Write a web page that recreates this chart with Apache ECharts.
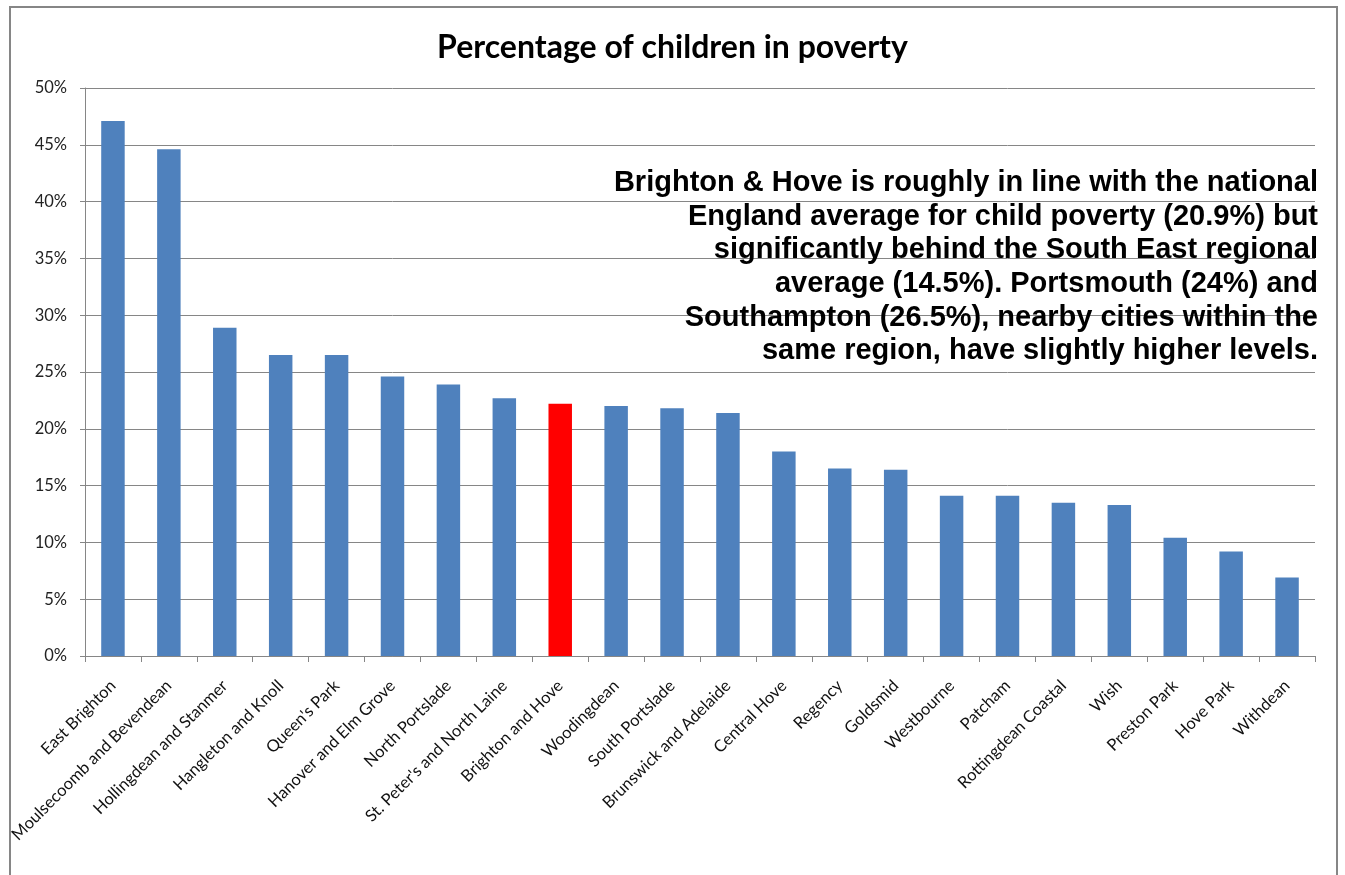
<!DOCTYPE html>
<html>
<head>
<meta charset="utf-8">
<script src="https://cdn.jsdelivr.net/npm/echarts@6/dist/echarts.min.js"></script>
<style>
html,body{margin:0;padding:0;background:#fff;}
#chart{width:1345px;height:875px;}
</style>
</head>
<body>
<div id="chart"></div>
<script>
const categories = ["East Brighton","Moulsecoomb and Bevendean","Hollingdean and Stanmer","Hangleton and Knoll","Queen's Park","Hanover and Elm Grove","North Portslade","St. Peter's and North Laine","Brighton and Hove","Woodingdean","South Portslade","Brunswick and Adelaide","Central Hove","Regency","Goldsmid","Westbourne","Patcham","Rottingdean Coastal","Wish","Preston Park","Hove Park","Withdean"];
const values = [47.1,44.6,28.9,26.5,26.5,24.6,23.9,22.7,22.2,22.0,21.8,21.4,18.0,16.5,16.4,14.1,14.1,13.5,13.3,10.4,9.2,6.9];
const highlight = "Brighton and Hove";
const titleText = "Percentage of children in poverty";
const noteLines = [
  "Brighton & Hove is roughly in line with the national",
  "England average for child poverty (20.9%) but",
  "significantly behind the South East regional",
  "average (14.5%). Portsmouth (24%) and",
  "Southampton (26.5%), nearby cities within the",
  "same region, have slightly higher levels."
];

const chart = echarts.init(document.getElementById('chart'));
chart.setOption({
  backgroundColor: '#fff',
  animation: false,
  title: {
    text: titleText,
    left: 'center',
    top: 27,
    textStyle: {fontFamily: 'Lato', fontWeight: 'bold', fontSize: 32, color: '#000'}
  },
  grid: {left: 85, right: 30, top: 88, bottom: 219, containLabel: false},
  xAxis: {
    type: 'category',
    data: categories,
    axisLine: {lineStyle: {color: '#868686', width: 1}},
    axisTick: {show: true, alignWithLabel: false, length: 6, lineStyle: {color: '#868686'}},
    axisLabel: {rotate: 45, interval: 0, fontFamily: 'Lato', fontSize: 16.5, color: '#111', margin: 27}
  },
  yAxis: {
    type: 'value',
    min: 0, max: 50, interval: 5,
    axisLine: {show: true, lineStyle: {color: '#868686'}},
    axisTick: {show: true, length: 5, lineStyle: {color: '#868686'}},
    axisLabel: {formatter: '{value}%', fontFamily: 'Lato', fontSize: 16.5, color: '#222', margin: 18},
    splitLine: {lineStyle: {color: '#868686', width: 1}}
  },
  series: [{
    type: 'bar',
    barWidth: '42%',
    data: values.map((v, i) => ({
      value: v,
      itemStyle: {color: categories[i] === highlight ? '#FF0000' : '#4F81BD'}
    }))
  }],
  graphic: [
    {type: 'rect', z: 100, silent: true, shape: {x: 0, y: 0, width: 9, height: 875}, style: {fill: '#fff'}},
    {type: 'rect', z: 101, silent: true, shape: {x: 10, y: 7, width: 1327, height: 900}, style: {fill: 'none', stroke: '#868686', lineWidth: 2}},
    {type: 'text', z: 102, silent: true, right: 1345 - 1318, top: 166,
      style: {text: noteLines.join('\n'), font: 'bold 29px "Liberation Sans", Arial, sans-serif', fill: '#000', textAlign: 'right', lineHeight: 33.7}}
  ]
});
</script>
</body>
</html>
